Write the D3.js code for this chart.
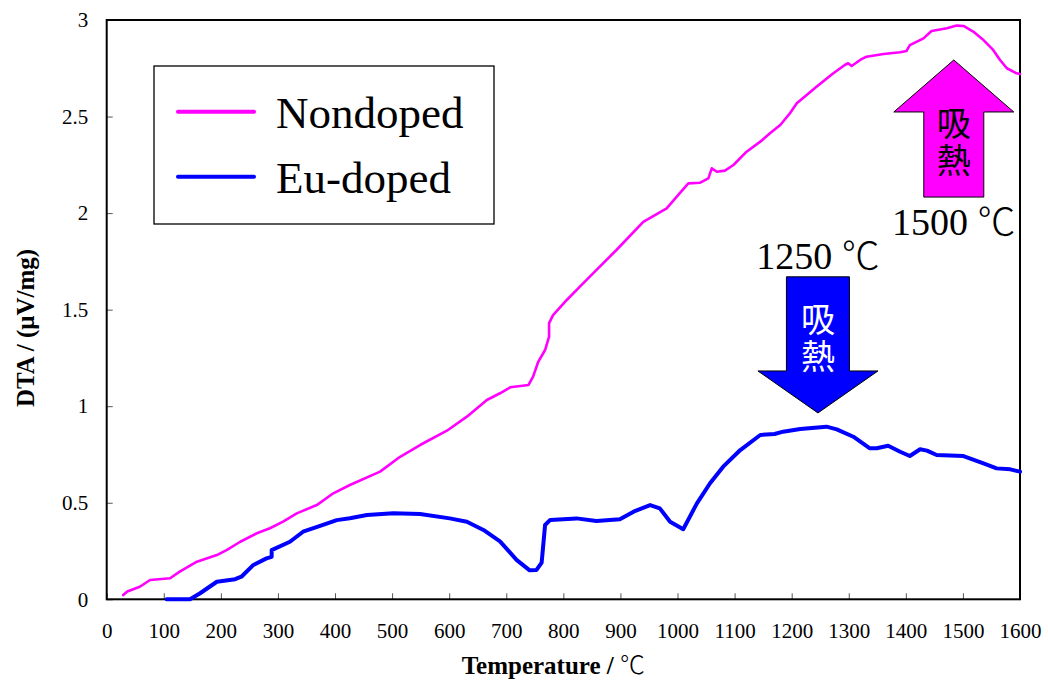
<!DOCTYPE html>
<html>
<head>
<meta charset="utf-8">
<script src="https://cdn.jsdelivr.net/npm/d3@7"></script>
<style>
  html, body { margin: 0; padding: 0; background: #fff; }
  svg { display: block; }
</style>
</head>
<body>
<svg id="chart" width="1048" height="681"></svg>
<script>
// DTA curves (temperature in °C, signal in µV/mg)
const nondopedT = [29,36,58,76,111,128,158,193,210,234,263,286,309,333,368,397,426,479,514,549,596,631,666,689,707,739,747,756,768,775,775,782,806,829,852,893,940,981,1004,1019,1039,1054,1060,1069,1083,1098,1121,1145,1162,1180,1197,1209,1244,1273,1293,1299,1305,1320,1331,1361,1390,1401,1407,1431,1445,1472,1489,1501,1518,1536,1553,1565,1577,1594,1600];
const nondopedV = [0.022,0.04,0.065,0.1,0.109,0.143,0.195,0.229,0.255,0.298,0.342,0.368,0.402,0.445,0.488,0.549,0.592,0.661,0.738,0.799,0.873,0.946,1.032,1.067,1.098,1.11,1.153,1.23,1.291,1.36,1.43,1.472,1.55,1.619,1.688,1.809,1.955,2.025,2.103,2.154,2.157,2.18,2.232,2.214,2.22,2.249,2.318,2.37,2.413,2.456,2.517,2.569,2.655,2.724,2.767,2.776,2.762,2.793,2.81,2.824,2.833,2.839,2.87,2.905,2.943,2.957,2.971,2.969,2.94,2.896,2.845,2.793,2.75,2.724,2.72];

const euT = [105,146,163,193,225,236,257,280,289,289,321,344,379,403,426,456,502,549,601,631,660,689,718,741,753,762,768,777,823,858,899,923,952,969,987,1010,1034,1057,1080,1110,1145,1170,1185,1215,1261,1279,1308,1337,1349,1369,1390,1407,1425,1437,1454,1501,1536,1559,1583,1600];
const euV = [0,0,0.03,0.091,0.104,0.117,0.178,0.212,0.22,0.255,0.298,0.35,0.385,0.41,0.42,0.437,0.445,0.442,0.419,0.402,0.359,0.3,0.204,0.15,0.152,0.19,0.385,0.411,0.419,0.405,0.414,0.454,0.488,0.471,0.402,0.363,0.497,0.601,0.687,0.773,0.851,0.856,0.868,0.882,0.894,0.88,0.842,0.782,0.782,0.795,0.764,0.742,0.777,0.77,0.747,0.742,0.704,0.678,0.673,0.661];

const seriesNames = ["Nondoped", "Eu-doped"];
const seriesColors = ["#ff00ff", "#0000ff"];

const xTicks = [0,100,200,300,400,500,600,700,800,900,1000,1100,1200,1300,1400,1500,1600];
const yTicks = [0,0.5,1,1.5,2,2.5,3];
const yTickLabels = ["0","0.5","1","1.5","2","2.5","3"];

// endothermic peak annotations: temperature label, arrow centre temperature, tip value, tail value
const peakTemps = ["1500", "1250"];
const peakArrowT = [1484, 1246];
const peakTipV = [2.793, 0.965];
const peakTailV = [2.083, 1.67];
const peakText = "吸熱";

const SERIF = '"Liberation Serif", "Times New Roman", serif';
const CJK = '"Noto Sans CJK JP", sans-serif';

const svg = d3.select("#chart");
const plotLeft = 106.7, plotRight = 1020, plotTop = 20, plotBottom = 599.3;

const x = d3.scaleLinear().domain([0, 1600]).range([plotLeft, plotRight]);
const y = d3.scaleLinear().domain([0, 3]).range([plotBottom, plotTop]);

// axes with inward ticks
const xAxis = d3.axisBottom(x).tickValues(xTicks).tickSize(-6).tickPadding(24).tickFormat(d3.format("d"));
const yAxis = d3.axisLeft(y).tickValues(yTicks).tickSize(-6).tickPadding(18.5)
  .tickFormat((d, i) => yTickLabels[i]);

const gx = svg.append("g").attr("transform", `translate(0,${plotBottom})`).call(xAxis);
const gy = svg.append("g").attr("transform", `translate(${plotLeft},0)`).call(yAxis);
[gx, gy].forEach(g => {
  g.attr("font-family", SERIF).attr("font-size", 21);
  g.select(".domain").remove();
  g.selectAll(".tick line").attr("stroke", "#555").attr("stroke-width", 1);
  g.selectAll(".tick text").attr("font-family", SERIF).attr("font-size", 21).attr("fill", "#000");
});

// plot frame
svg.append("rect")
  .attr("x", plotLeft).attr("y", plotTop)
  .attr("width", plotRight - plotLeft).attr("height", plotBottom - plotTop)
  .attr("fill", "none").attr("stroke", "#000").attr("stroke-width", 2);

// curves
const line = d3.line().x(d => x(d[0])).y(d => y(d[1]));
const nondoped = nondopedT.map((t, i) => [t, nondopedV[i]]);
const eu = euT.map((t, i) => [t, euV[i]]);

svg.append("path").datum(eu)
  .attr("d", line).attr("fill", "none")
  .attr("stroke", seriesColors[1]).attr("stroke-width", 4)
  .attr("stroke-linejoin", "round").attr("stroke-linecap", "round");
svg.append("path").datum(nondoped)
  .attr("d", line).attr("fill", "none")
  .attr("stroke", seriesColors[0]).attr("stroke-width", 2.6)
  .attr("stroke-linejoin", "round").attr("stroke-linecap", "round");

// legend
const legend = svg.append("g");
legend.append("rect")
  .attr("x", 154).attr("y", 66).attr("width", 340).attr("height", 158)
  .attr("fill", "#fff").attr("stroke", "#000").attr("stroke-width", 1.3);
seriesNames.forEach((name, i) => {
  const ly = 111.7 + i * 65;
  legend.append("line")
    .attr("x1", 178).attr("x2", 254).attr("y1", ly).attr("y2", ly)
    .attr("stroke", seriesColors[i]).attr("stroke-width", 4).attr("stroke-linecap", "round");
  legend.append("text").attr("font-family", SERIF)
    .attr("x", 276).attr("y", ly + 16).attr("font-size", 45).attr("fill", "#000")
    .text(name);
});

// text with a trailing degree-Celsius sign in a lighter face
function celsiusText(sel, prefix) {
  sel.append("tspan").text(prefix);
  sel.append("tspan").attr("font-family", CJK).attr("font-weight", 300).text("℃");
}

// endothermic arrows
function arrowPath(cx, tipY, tailY, shaftW, headW, headH) {
  const dir = tailY > tipY ? 1 : -1;       // +1: arrow points up
  const baseY = tipY + dir * headH;
  return [
    [cx, tipY], [cx + headW / 2, baseY], [cx + shaftW / 2, baseY],
    [cx + shaftW / 2, tailY], [cx - shaftW / 2, tailY], [cx - shaftW / 2, baseY],
    [cx - headW / 2, baseY]
  ];
}
const arrowSpec = [
  { shaftW: 60, headW: 120, headH: 52, textFill: "#000", labelY: 235, textMidY: 143.5 },
  { shaftW: 63, headW: 120, headH: 42, textFill: "#fff", labelY: 269, textMidY: 339.5 }
];
peakTemps.forEach((temp, i) => {
  const s = arrowSpec[i];
  const cx = x(peakArrowT[i]);
  const pts = arrowPath(cx, y(peakTipV[i]), y(peakTailV[i]), s.shaftW, s.headW, s.headH);
  svg.append("polygon")
    .attr("points", pts.map(p => p.join(",")).join(" "))
    .attr("fill", seriesColors[i]).attr("stroke", "#000").attr("stroke-width", 1);
  // vertical two-character caption inside the shaft
  svg.append("text").attr("font-family", CJK)
    .attr("x", cx).attr("y", s.textMidY)
    .attr("text-anchor", "middle")
    .style("writing-mode", "vertical-rl")
    .style("letter-spacing", "3px")
    .attr("font-size", 34).attr("fill", s.textFill).text(peakText);
  const lab = svg.append("text").attr("font-family", SERIF)
    .attr("x", cx).attr("y", s.labelY).attr("text-anchor", "middle")
    .attr("font-size", 38).attr("fill", "#000");
  celsiusText(lab, temp + " ");
});

// axis titles
const xTitle = svg.append("text").attr("font-family", SERIF)
  .attr("x", (plotLeft + plotRight) / 2 - 10).attr("y", 674)
  .attr("text-anchor", "middle").attr("font-size", 25).attr("font-weight", "bold");
celsiusText(xTitle, "Temperature / ");
svg.append("text").attr("font-family", SERIF)
  .attr("transform", "translate(34,328) rotate(-90)")
  .attr("text-anchor", "middle").attr("font-size", 25).attr("font-weight", "bold")
  .text("DTA / (μV/mg)");
</script>
</body>
</html>
